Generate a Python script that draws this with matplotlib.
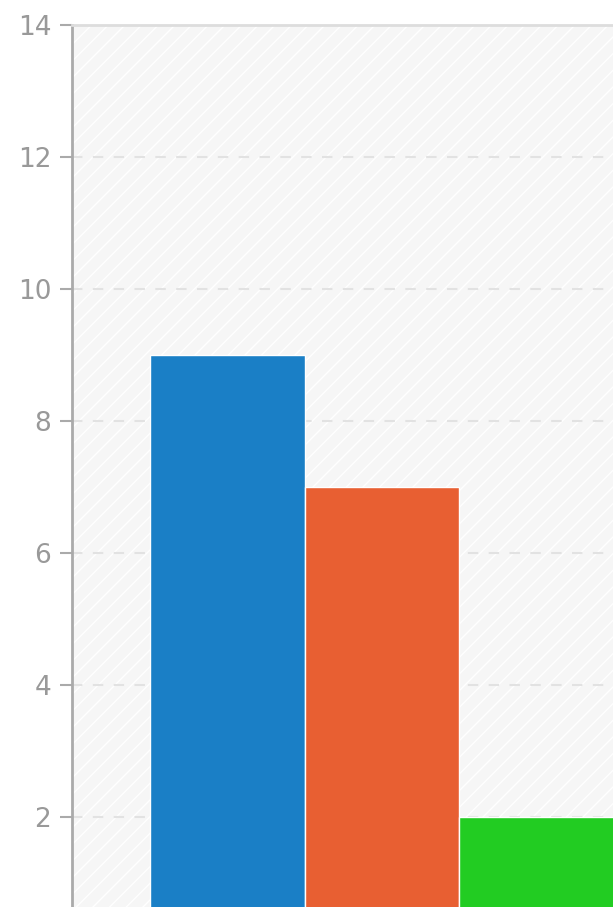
import matplotlib
matplotlib.use("Agg")
from matplotlib import pyplot as plt
from matplotlib.patches import Rectangle

''' Bar data read from the picture.'''

categories = ["A", "B", "C"]
values = [9, 7, 2]
colours = ["#1a7fc6", "#e85f32", "#22cc22"]
yticks = [2, 4, 6, 8, 10, 12, 14]

plt.rcParams['hatch.linewidth'] = 1.0
plt.rcParams['hatch.color'] = 'white'

fig = plt.figure(figsize=(6.13, 9.07), dpi=100)

# the chart in the picture is cropped: axes run past the bottom and right edges
ax = fig.add_axes([72/613, -0.0463, 1.0, 1.0187])

ax.set_facecolor('#f6f6f6')
ax.add_patch(Rectangle((0, 0), 1, 1, transform=ax.transAxes, facecolor='none',
                       edgecolor='white', hatch='//', linewidth=0, zorder=0))

xpos = list(range(len(categories)))
ax.bar(xpos, values, width=1.0, color=colours, edgecolor='white', linewidth=1.0, zorder=3)

ax.set_ylim(0, 14)
ax.set_xlim(-1.005, -1.005 + 613/154.5)
ax.set_yticks(yticks)
ax.set_yticklabels([str(t) for t in yticks])
ax.set_xticks([])

ax.yaxis.grid(True, linestyle=(0, (5, 5)), color='#e2e2e2', linewidth=1.5, zorder=1)
ax.set_axisbelow(True)

ax.tick_params(axis='y', length=9, width=1.5, color='#aaaaaa', labelcolor='#999999',
               labelsize=19, pad=6)

ax.spines['left'].set_color('#aaaaaa')
ax.spines['left'].set_linewidth(2)
ax.spines['top'].set_color('#dddddd')
ax.spines['top'].set_linewidth(2)
ax.spines['right'].set_visible(False)
ax.spines['bottom'].set_visible(False)

fig.savefig("out.png", dpi=100)
